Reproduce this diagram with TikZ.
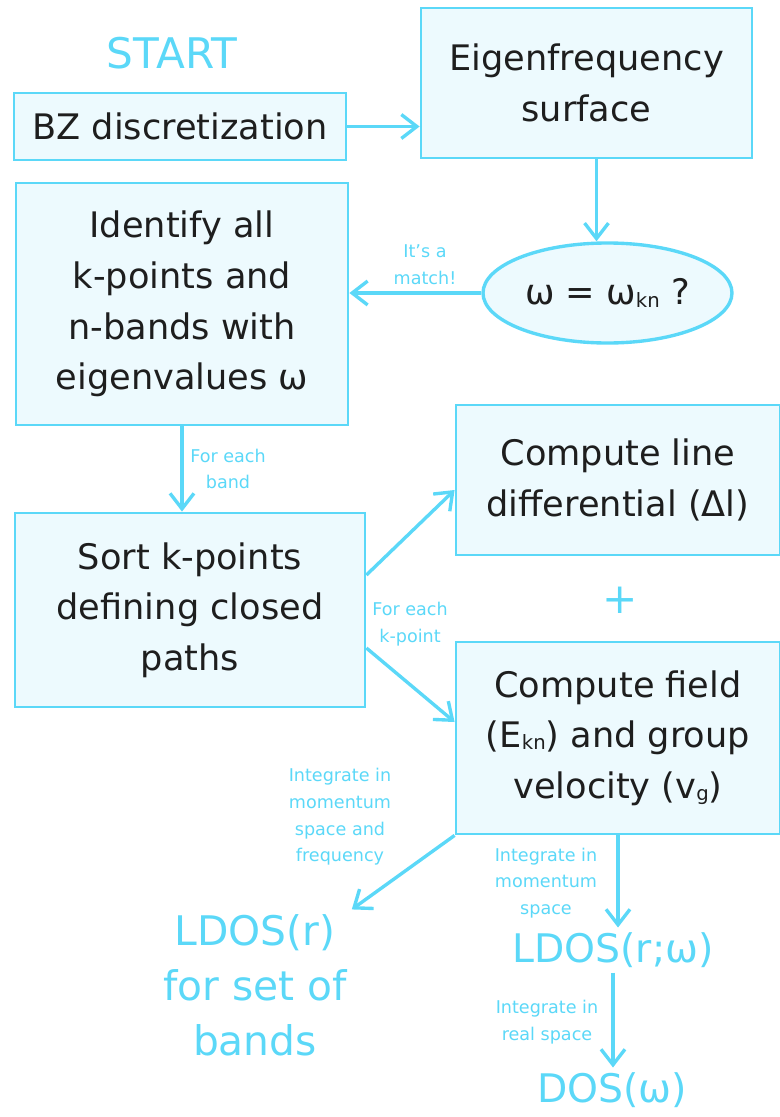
\documentclass[tikz,border=0pt]{standalone}
\usepackage{fontspec}
\setmainfont{DejaVu Sans}
\usepackage{tikz}
\usetikzlibrary{arrows.meta, shapes.geometric}
\definecolor{flowCyan}{HTML}{5BD8F8}
\definecolor{flowFill}{HTML}{EDFAFE}
\definecolor{flowInk}{HTML}{1E1E1E}
\newcommand\px{0.025cm}
\newcommand\boxFont{\fontsize{25}{36}\selectfont}
\newcommand\noteFont{\fontsize{12.5}{19}\selectfont}
\newcommand\resultFont{\fontsize{28}{39}\selectfont}
\newcommand\sub[1]{\raisebox{-1.5pt}{\fontsize{14}{14}\selectfont #1}}
\tikzset{
    stepbox/.style 2 args={draw=flowCyan, fill=flowFill, line width=2pt, text=flowInk,
        font=\boxFont, align=center, inner sep=0pt,
        minimum width={#1*\px}, minimum height={#2*\px}},
    flow/.style={draw=flowCyan, line width=2.4pt, -{Straight Barb[length=11pt, width=17pt]}},
    note/.style={text=flowCyan, font=\noteFont, align=center},
    result/.style={text=flowCyan, font=\resultFont, align=center},
}

\begin{document}
\begin{tikzpicture}[x=\px, y=-\px]
    \useasboundingbox (0,0) rectangle (780,1117);

    % boxes, placed at pixel centres of the sketch
    \node[result, font=\fontsize{30}{30}\selectfont] (start) at (172,53) {START};
    \node[stepbox={332}{67}] (bz) at (180,126.5) {BZ discretization};
    \node[stepbox={331}{150}] (eigen) at (586.5,83) {Eigenfrequency\\surface};
    \node[ellipse, draw=flowCyan, fill=flowFill, line width=2.4pt, text=flowInk, font=\boxFont,
        inner sep=0pt, minimum width={249*\px}, minimum height={100*\px}] (match) at (607.5,293)
        {ω = ω\sub{kn} ?};
    \node[stepbox={332}{242}] (ident) at (182,304) {Identify all\\k-points and\\n-bands with\\eigenvalues ω};
    \node[stepbox={350}{194}] (sort) at (190,610) {Sort k-points\\defining closed\\paths};
    \node[stepbox={324}{150}] (line) at (618,480) {Compute line\\differential (Δl)};
    \node[stepbox={324}{192}] (field) at (618,738) {Compute field\\(E\sub{kn}) and group\\velocity (v\sub{g})};
    \node[text=flowCyan, font=\fontsize{30}{30}\selectfont] (plus) at (620,600) {+};

    % results
    \node[result, font=\fontsize{29}{39}\selectfont] (ldosr) at (255,985) {LDOS(r)\\for set of\\bands};
    \node[result] (ldosw) at (613,950) {LDOS(r;ω)};
    \node[result] (dos) at (612,1090) {DOS(ω)};

    % connectors
    \coordinate (drop) at ([xshift=10*\px]eigen.south);
    \draw[flow] (bz.east) -- (bz.east -| eigen.west);
    \draw[flow] (drop) -- (drop |- match.north);
    \draw[flow] (match.west) -- (match.west -| ident.east);
    \draw[flow] (ident.south) -- (ident.south |- sort.north);
    \draw[flow] ([yshift=35*\px]sort.east) -- ([yshift=-10*\px]line.west);
    \draw[flow] ([yshift=-38*\px]sort.east) -- ([yshift=16*\px]field.west);
    \draw[flow] (field.south west) -- (ldosr.north east);
    \draw[flow] (field.south) -- (field.south |- ldosw.north);
    \draw[flow] (ldosw.south) -- (ldosw.south |- dos.north);

    % connector notes
    \node[note] (matchnote) at (425,265) {It’s a\\match!};
    \node[note] (bandnote) at (228,469) {For each\\band};
    \node[note] (pointnote) at (410,624) {For each\\k-point};
    \node[note] (freqnote) at (340,817) {Integrate in\\momentum\\space and\\frequency};
    \node[note] (momnote) at (546,883) {Integrate in\\momentum\\space};
    \node[note] (realnote) at (547,1022) {Integrate in\\real space};
\end{tikzpicture}
\end{document}
